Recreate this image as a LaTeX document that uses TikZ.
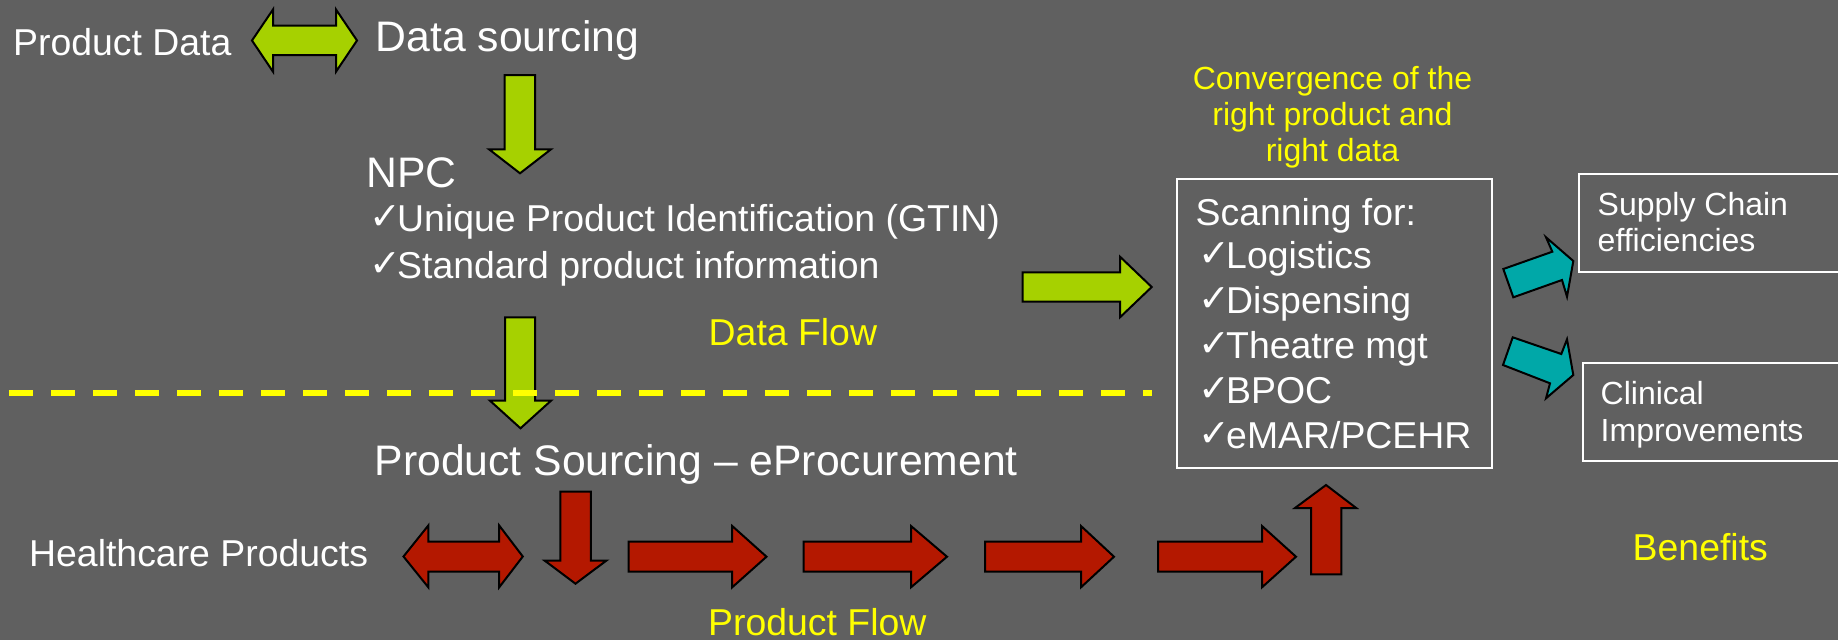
\documentclass[tikz,border=0pt]{standalone}
\usepackage{fontspec}
\setmainfont{Liberation Sans}
\newfontfamily\symfont{DejaVu Sans}
\definecolor{bg}{RGB}{96,96,96}
\definecolor{lime}{RGB}{166,209,0}
\definecolor{brick}{RGB}{180,24,0}
\definecolor{tealb}{RGB}{0,168,168}
\definecolor{yel}{RGB}{255,255,0}
\newcommand\fsL{\fontsize{42.7}{48}\selectfont}
\newcommand\fsM{\fontsize{37.4}{43}\selectfont}
\newcommand\fsS{\fontsize{32}{36}\selectfont}
\newcommand\chk{\makebox[28pt][l]{\raisebox{2pt}{\symfont\fontsize{38}{38}\selectfont ✓}}}
\tikzset{
  txt/.style={inner sep=0pt, anchor=base west, text=white, font=\fsM},
  ytxt/.style={txt, text=yel},
  garrow/.style={fill=lime, draw=black, line width=2pt, line join=miter},
  rarrow/.style={fill=brick, draw=black, line width=2pt, line join=miter},
  tarrow/.style={fill=tealb, draw=black, line width=2pt, line join=miter},
  wbox/.style={draw=white, line width=2pt},
  divider/.style={draw=yel, line width=6.7pt, dash pattern=on 24pt off 18pt}
}
\begin{document}
\begin{tikzpicture}[x=1pt,y=-1pt]
\fill[bg] (0,0) rectangle (1838,640);
\useasboundingbox (0,0) rectangle (1838,640);

% ---- top data row
\node[txt] (pdata) at (13,55.5) {Product Data};
\draw[garrow] (252,40.5) -- (273,9.5) -- (273,25.7) -- (336,25.7) -- (336,9.5) -- (357,40.5)
  -- (336,71.7) -- (336,55) -- (273,55) -- (273,71.7) -- cycle;
\node[txt, font=\fsL] (dsrc) at (375.5,51.7) {Data sourcing};
\draw[garrow] (504.5,75) -- (535,75) -- (535,149.3) -- (551,149.3) -- (520,173.3)
  -- (489,149.3) -- (504.5,149.3) -- cycle;

\node[txt, font=\fsL] (npc) at (366,187.3) {NPC};
\node[txt] (npc1) at (369,231.7) {\chk Unique Product Identification (GTIN)};
\node[txt] (npc2) at (369,278.3) {\chk Standard product information};

\draw[garrow] (505,317.3) -- (535,317.3) -- (535,400.7) -- (551,400.7) -- (520.5,428.3)
  -- (490,400.7) -- (505,400.7) -- cycle;
\node[ytxt] (dflow) at (708.5,345.7) {Data Flow};
\draw[garrow] (1022.7,272.3) -- (1120,272.3) -- (1120,256.7) -- (1151.7,287)
  -- (1120,317.3) -- (1120,301.7) -- (1022.7,301.7) -- cycle;

% ---- divider
\coordinate (dl) at (9.3,393);
\coordinate (dr) at (1151.7,393);
\draw[divider] (dl) -- (dr);

% ---- product row
\node[txt, font=\fsL] (psrc) at (374.5,475.5) {Product Sourcing – eProcurement};
\node[txt] (hcp) at (29,566) {Healthcare Products};
\draw[rarrow] (403.5,556.5) -- (428.3,525.5) -- (428.3,541.7) -- (499.2,541.7) -- (499.2,525.5)
  -- (522.8,556.5) -- (499.2,587.3) -- (499.2,571.7) -- (428.3,571.7) -- (428.3,587.3) -- cycle;
\draw[rarrow] (560.4,491.7) -- (590.8,491.7) -- (590.8,560.5) -- (606.5,560.5) -- (575.5,583.7)
  -- (544.5,560.5) -- (560.4,560.5) -- cycle;
\foreach \a/\b/\c in {628.7/732.2/766.5, 803.5/911/947, 985/1081/1114, 1158/1262/1296}{
  \draw[rarrow] (\a,541.7) -- (\b,541.7) -- (\b,526) -- (\c,556.7) -- (\b,587.3)
    -- (\b,571.7) -- (\a,571.7) -- cycle;
}
\draw[rarrow] (1311,574.3) -- (1311,508) -- (1295,508) -- (1326,485) -- (1356.2,508)
  -- (1341.3,508) -- (1341.3,574.3) -- cycle;
\node[ytxt] (pflow) at (708,635) {Product Flow};

% ---- convergence
\node[ytxt, font=\fsS, anchor=base] (conv1) at (1332.5,89.3) {Convergence of the};
\node[ytxt, font=\fsS, anchor=base] (conv2) at (1332.5,125.3) {right product and};
\node[ytxt, font=\fsS, anchor=base] (conv3) at (1332.5,161.3) {right data};

\draw[wbox] (1176.7,179.3) rectangle (1492.3,468.3);
\node[txt] (scan) at (1195.5,225) {Scanning for:};
\node[txt] (s1) at (1198,268.3) {\chk Logistics};
\node[txt] (s2) at (1198,313.3) {\chk Dispensing};
\node[txt] (s3) at (1198,358.3) {\chk Theatre mgt};
\node[txt] (s4) at (1198,403.3) {\chk BPOC};
\node[txt] (s5) at (1198,448.3) {\chk eMAR/PCEHR};

% ---- benefits
\draw[tarrow] (1503.3,269) -- (1552.3,251.7) -- (1546,237.3) -- (1573.3,261) -- (1567,296.7)
  -- (1562,280) -- (1513.3,297.3) -- cycle;
\draw[tarrow] (1512.7,337.3) -- (1561.3,354) -- (1567,339.3) -- (1573.3,375) -- (1546,398.3)
  -- (1550,383.3) -- (1503,365) -- cycle;
\draw[wbox] (1838,174) -- (1579.3,174) -- (1579.3,272) -- (1838,272);
\draw[wbox] (1838,362.7) -- (1582.5,362.7) -- (1582.5,460.7) -- (1838,460.7);
\node[txt, font=\fsS] (sc1) at (1597.5,215) {Supply Chain};
\node[txt, font=\fsS] (sc2) at (1597.5,251.7) {efficiencies};
\node[txt, font=\fsS] (cl1) at (1600.5,404) {Clinical};
\node[txt, font=\fsS] (cl2) at (1600.5,441.7) {Improvements};
\node[ytxt] (ben) at (1632.5,560) {Benefits};
\end{tikzpicture}
\end{document}
